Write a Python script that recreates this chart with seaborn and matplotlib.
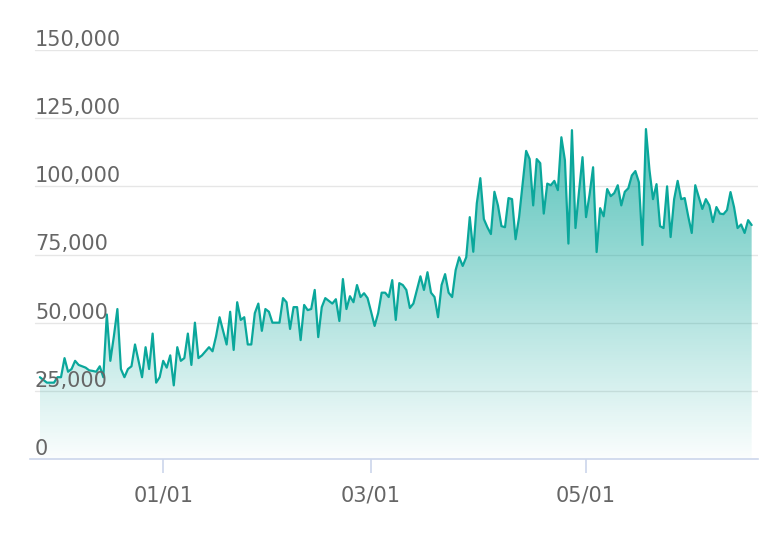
import numpy as np
import pandas as pd
import matplotlib
matplotlib.use("Agg")
import matplotlib.pyplot as plt
import matplotlib.dates as mdates
import matplotlib.transforms as mtransforms
from matplotlib.colors import LinearSegmentedColormap
import seaborn as sns

# daily values (27 Nov -> 17 Jun)
start_date = "2018-11-27"
values = [
    30, 29, 28, 28, 28, 30, 30, 37, 32, 33, 36, 34.5, 34, 33.5, 32.5, 32.3, 32, 34, 30, 53,
    36, 45, 55, 33, 30, 33, 34, 42, 36, 30, 41, 33, 46, 28, 30, 36, 33.5, 38, 27, 41,
    36, 37, 46, 34.5, 50, 37, 38, 39.5, 41, 39.5, 45, 52, 47, 42, 54, 40, 57.5, 51, 52, 42,
    42, 53.5, 57, 47, 55, 54, 50, 50, 50, 59, 57.5, 47.7, 55.7, 55.7, 43.6, 56.5, 54.6, 55, 62, 44.7,
    55.7, 59, 58, 57, 58.6, 50.6, 66, 55, 59.7, 57.5, 63.8, 59.4, 60.8, 59, 54, 48.8, 53.5, 61, 61, 59.4,
    65.6, 51, 64.5, 63.8, 62, 55.4, 57, 62, 67, 62, 68.5, 61, 59.4, 52, 63.8, 67.8, 61, 59.4, 69.3, 74,
    70.8, 74, 88.7, 76, 93.8, 103, 88, 85, 82.5, 98, 93, 85.4, 85, 95.7, 95.3, 80.6, 88.7, 101, 113, 110,
    93, 110, 108.5, 90, 101, 100.4, 102, 98.6, 118, 109.6, 79, 120.6, 84.7, 98, 110.7, 88.7, 97, 107, 75.9, 92,
    89, 99, 96.4, 97.5, 100.4, 93, 98, 99.3, 104, 105.6, 101.5, 78.5, 121, 106, 95.3, 100.8, 85.4, 84.7, 100, 81.4,
    95.3, 102, 95.3, 95.7, 89, 82.9, 100.4, 96, 91.7, 95.3, 93, 86.9, 92.4, 90, 89.8, 91.3, 97.9, 92.4, 84.7, 86,
    82.9, 87.6, 85.8,
]
y_ticks = [0, 25000, 50000, 75000, 100000, 125000, 150000]
x_ticks = ["2019-01-01", "2019-03-01", "2019-05-01"]

line_color = "#0aa79b"
grid_color = "#e6e6e6"
axis_color = "#ccd6eb"
label_color = "#666666"

df = pd.DataFrame({
    "date": pd.date_range(start_date, periods=len(values), freq="D"),
    "value": np.array(values) * 1000,
})

sns.set_style("white")
plt.rcParams["font.family"] = ["DejaVu Sans"]

fig = plt.figure(figsize=(7.78, 5.44), dpi=100)
ax = fig.add_axes([30 / 778, 85 / 544, 728 / 778, 409 / 544])

# gradient area under the line
xnum = mdates.date2num(df["date"])
poly = ax.fill_between(xnum, 0, df["value"], color="none", lw=0)
cmap = LinearSegmentedColormap.from_list(
    "fade", [(0.04, 0.655, 0.608, 0.02), (0.04, 0.655, 0.608, 0.85)])
grad = np.linspace(0, 1, 256).reshape(-1, 1)
img = ax.imshow(grad, cmap=cmap, aspect="auto", origin="lower",
                extent=[xnum[0], xnum[-1], 0, y_ticks[-1]], zorder=1)
img.set_clip_path(poly.get_paths()[0], transform=ax.transData)

sns.lineplot(data=df, x="date", y="value", ax=ax, color=line_color, lw=1.6, zorder=3)

ax.set_xlim(xnum[0] - 2.8, xnum[-1] + 1.8)
ax.set_ylim(0, y_ticks[-1])

# horizontal grid lines
for t in y_ticks[1:]:
    ax.axhline(t, xmin=0.007, color=grid_color, lw=1, zorder=0)

for s in ["top", "right", "left"]:
    ax.spines[s].set_visible(False)
ax.spines["bottom"].set_color(axis_color)
ax.spines["bottom"].set_linewidth(1.2)

# y labels sit inside the plot, just above their grid lines
ax.set_yticks([])
offset = mtransforms.ScaledTranslation(5 / 100, 0, fig.dpi_scale_trans)
trans = mtransforms.blended_transform_factory(ax.transAxes, ax.transData) + offset
for t in y_ticks:
    ax.text(0, t, f"{t:,}", transform=trans, ha="left", va="bottom",
            fontsize=15, color=label_color, clip_on=False, zorder=4)

ax.set_xticks(mdates.date2num(pd.to_datetime(x_ticks)))
ax.xaxis.set_major_formatter(mdates.DateFormatter("%m/%d"))
ax.tick_params(axis="x", length=10, width=1.2, color=axis_color, labelcolor=label_color,
               labelsize=15, pad=9, direction="out", bottom=True)
ax.set_xlabel("")
ax.set_ylabel("")

fig.savefig("out.png", dpi=100)
